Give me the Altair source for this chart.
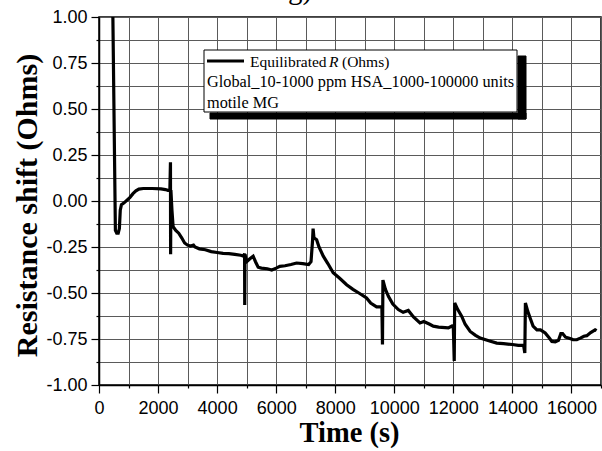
import altair as alt
import pandas as pd

# ---- data ----
time_s = [470, 555, 600, 650, 690, 720, 760, 850, 950, 1050, 1150, 1250, 1350, 1500, 1800,
          2100, 2250, 2330, 2400, 2420, 2425, 2435, 2470, 2510, 2600, 2700, 2800, 2900, 3000,
          3100, 3200, 3250, 3400, 3600, 3800, 4000, 4200, 4400, 4600, 4800, 4900, 4930, 4935,
          4945, 5000, 5100, 5220, 5300, 5390, 5500, 5700, 5850, 6000, 6125, 6300, 6500, 6690,
          6900, 7100, 7180, 7230, 7250, 7280, 7370, 7450, 7595, 7750, 7930, 8150, 8385, 8600,
          8800, 9060, 9200, 9400, 9580, 9600, 9615, 9700, 9800, 9950, 10135, 10300, 10475,
          10650, 10870, 11000, 11200, 11320, 11500, 11830, 11950, 12000, 12030, 12045, 12150,
          12285, 12400, 12570, 12750, 12910, 13200, 13470, 13700, 14000, 14200, 14380, 14420,
          14440, 14520, 14600, 14700, 14830, 14950, 15110, 15250, 15335, 15450, 15560, 15640,
          15700, 15800, 15900, 16050, 16180, 16300, 16420, 16520, 16650, 16800, 16850]
resistance = [1.0, -0.16, -0.175, -0.175, -0.15, -0.05, -0.02, -0.01, 0.005, 0.02, 0.04, 0.055,
              0.065, 0.068, 0.068, 0.066, 0.062, 0.058, 0.06, 0.21, -0.29, 0.06, -0.05, -0.14,
              -0.16, -0.175, -0.2, -0.228, -0.24, -0.245, -0.24, -0.25, -0.26, -0.265, -0.275,
              -0.28, -0.285, -0.286, -0.29, -0.295, -0.3, -0.285, -0.565, -0.29, -0.33, -0.315,
              -0.30, -0.33, -0.36, -0.365, -0.368, -0.375, -0.365, -0.355, -0.352, -0.345,
              -0.337, -0.34, -0.345, -0.33, -0.22, -0.15, -0.2, -0.21, -0.25, -0.30, -0.34,
              -0.39, -0.42, -0.455, -0.48, -0.5, -0.527, -0.555, -0.575, -0.575, -0.78, -0.43,
              -0.48, -0.518, -0.56, -0.59, -0.605, -0.595, -0.63, -0.663, -0.655, -0.67, -0.68,
              -0.685, -0.69, -0.68, -0.69, -0.87, -0.554, -0.59, -0.627, -0.67, -0.709, -0.73,
              -0.745, -0.76, -0.772, -0.775, -0.78, -0.785, -0.785, -0.826, -0.554, -0.6,
              -0.636, -0.68, -0.70, -0.70, -0.717, -0.745, -0.763, -0.765, -0.757, -0.72, -0.72,
              -0.74, -0.745, -0.753, -0.754, -0.745, -0.735, -0.732, -0.715, -0.70, -0.705]

x_ticks = list(range(0, 17001, 1000))
y_ticks = [-1 + 0.125 * i for i in range(17)]

legend_line1 = "Equilibrated"
legend_italic = "R"
legend_line1_end = "(Ohms)"
legend_line2 = "Global_10-1000 ppm HSA_1000-100000 units"
legend_line3 = "motile MG"
panel_label = "g)"
x_title = "Time (s)"
y_title = "Resistance shift (Ohms)"

df = pd.DataFrame({"t": time_s, "r": resistance, "i": range(len(time_s))})

SERIF = "Liberation Serif"
SANS = "Liberation Sans"

x_axis = alt.Axis(
    values=x_ticks,
    labelExpr="datum.value % 2000 === 0 ? datum.label : ''",
    format="d",
    grid=True, gridColor="#5a5a5a", gridWidth=1,
    domainColor="black", domainWidth=1.5,
    tickColor="black", tickWidth=1.2,
    tickSize={"condition": {"test": "datum.value % 2000 === 0", "value": 8}, "value": 3},
    labelFont=SANS, labelFontSize=18, labelColor="black", labelPadding=6,
    labelFlush=False, labelOverlap=False,
    title=x_title, titleFont=SERIF, titleFontSize=28.5, titleFontWeight="bold",
    titleColor="black", titleX=250, titleY=56, titleBaseline="alphabetic", titleAlign="center",
)
y_axis = alt.Axis(
    values=y_ticks,
    labelExpr="abs(datum.value*4 - round(datum.value*4)) < 1e-6 ? replace(format(datum.value, '.2f'), '\u2212', '-') : ''",
    grid=True, gridColor="#5a5a5a", gridWidth=1,
    domainColor="black", domainWidth=1.5,
    tickColor="black", tickWidth=1.2,
    tickSize={"condition": {"test": "abs(datum.value*4 - round(datum.value*4)) < 1e-6", "value": 8}, "value": 3},
    labelFont=SANS, labelFontSize=18, labelColor="black", labelPadding=4,
    labelFlush=False, labelOverlap=False,
    title=y_title, titleFont=SERIF, titleFontSize=30, titleFontWeight="bold",
    titleColor="black", titleAngle=-90, titleX=-62.5, titleY=188,
    titleBaseline="alphabetic", titleAlign="center",
)

line = alt.Chart(df).mark_line(color="black", strokeWidth=3.2, clip=True).encode(
    x=alt.X("t:Q", scale=alt.Scale(domain=[0, 17000], nice=False, zero=False), axis=x_axis),
    y=alt.Y("r:Q", scale=alt.Scale(domain=[-1, 1], nice=False), axis=y_axis),
    order="i:Q",
)

def rect(name, fill, x, x2, y, y2):
    return alt.Chart(pd.DataFrame({"k": [name]})).mark_rect(
        fill=fill, stroke="black", strokeWidth=1, opacity=1).encode(
        x=alt.value(x), x2=alt.value(x2), y=alt.value(y), y2=alt.value(y2))

box = rect("box", "white", 105, 418, 33, 95)
# drop shadow: right and bottom strips, drawn after the box
shadow_r = rect("shadow_r", "black", 419, 427, 39, 102)
shadow_b = rect("shadow_b", "black", 111, 427, 96, 102)
sample = alt.Chart(pd.DataFrame({"k": ["sample"]})).mark_rule(color="black", strokeWidth=3).encode(
    x=alt.value(108), x2=alt.value(145), y=alt.value(44))

def txt(s, x, y, style="normal", size=16.3):
    return alt.Chart(pd.DataFrame({"s": [s]})).mark_text(
        align="left", baseline="alphabetic", font=SERIF, fontSize=size,
        fontStyle=style, color="black").encode(text="s:N", x=alt.value(x), y=alt.value(y))

t1 = txt(legend_line1, 151, 50, size=15.5)
t1r = txt(legend_italic, 230, 50, style="italic", size=15.5)
t1e = txt(legend_line1_end, 243, 50, size=15.5)
t2 = txt(legend_line2, 108, 69.5)
t3 = txt(legend_line3, 108, 91)
g = txt(panel_label, 189, -18, size=29)

chart = alt.layer(line, box, shadow_r, shadow_b, sample, t1, t1r, t1e, t2, t3, g).properties(
    width=502, height=368,
    autosize=alt.AutoSizeParams(type="none"),
    padding={"left": 99, "top": 17, "right": 1, "bottom": 66},
).configure_view(stroke="black", strokeWidth=1.5)

chart.save("out.html", embed_options={"renderer": "svg", "actions": False})
